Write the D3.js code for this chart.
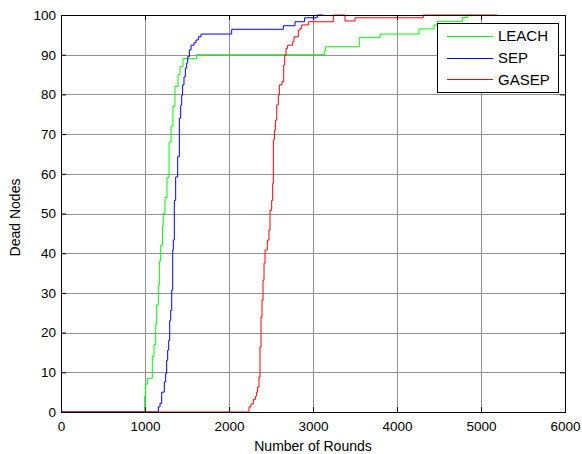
<!DOCTYPE html>
<html><head><meta charset="utf-8">
<script src="https://cdn.jsdelivr.net/npm/d3@7"></script>
<style>body{margin:0;background:#fff} svg text{font-family:"Liberation Sans",Arial,sans-serif;fill:#000}</style>
</head><body><svg id="c" width="582" height="454"></svg>
<script>
const xTicks=[0,1000,2000,3000,4000,5000,6000];
const yTicks=[0,10,20,30,40,50,60,70,80,90,100];
const seriesNames=["LEACH","SEP","GASEP"];
const seriesColors=["#00ff00","#0000ff","#ff0000"];
const xLabel="Number of Rounds";
const yLabel="Dead Nodes";

const leachRounds=[0,996,1008,1028,1087,1107,1127,1139,1159,1171,1187,1208,1218,1238,1262,1286,1310,1333,1357,1393,1417,1452,1615,3135,3150,3551,3798,4262,4440,4480,4777,4840,4900];
const leachDead=[0,4,7,8.5,14,17,22,27,32,38,42,47,50,54,59,68,72,77,82,85,87,89,90,91,92,94.3,95.2,96.5,97.5,98.4,99.4,100,100];

const sepRounds=[0,1159,1179,1199,1230,1246,1258,1270,1282,1294,1306,1318,1330,1337,1349,1365,1389,1409,1425,1437,1448,1464,1480,1496,1508,1528,1548,1583,1607,1635,1667,2032,2647,2786,2900,3050,3120];
const sepDead=[0,1.3,2.2,5,7.6,9.7,13,15.6,18,23,25.6,30.7,40.8,43.3,53.3,59.2,64.3,74,77.3,79.8,82.4,84.4,86.6,87.9,89.5,91.2,92.4,93,93.7,94.5,95.2,96.4,97.3,98.3,99.3,100,100];

const gasepRounds=[0,2238,2262,2290,2317,2329,2341,2357,2369,2381,2393,2405,2417,2429,2456,2476,2488,2508,2520,2528,2540,2552,2568,2587,2599,2631,2651,2663,2679,2698,2758,2774,2825,2845,2865,2944,3242,3381,3500,4313,5190];
const gasepDead=[0,1.3,2,3.2,4,5,6.3,8.8,16.4,23.9,28.2,33.2,37.5,40.8,43.3,45.8,50.8,53.3,57.6,68.5,71,73.5,77.3,79.8,82.4,83.2,87.4,89.9,91.6,92.4,93.3,94.5,96.2,96.6,97.5,98.3,100,98.5,99.3,100,100];

const allRounds=[leachRounds,sepRounds,gasepRounds];
const allDead=[leachDead,sepDead,gasepDead];

const L=61,T=15,W=504,H=397;
const svg=d3.select("#c");
const x=d3.scaleLinear().domain([0,6000]).range([L,L+W]);
const y=d3.scaleLinear().domain([0,100]).range([T+H,T]);

const g=svg.append("g");
// grid
g.append("g").selectAll("line").data(xTicks.slice(1,-1)).join("line")
 .attr("x1",d=>Math.round(x(d))+0.5).attr("x2",d=>Math.round(x(d))+0.5)
 .attr("y1",T).attr("y2",T+H).attr("stroke","#939393").attr("stroke-width",1);
g.append("g").selectAll("line").data(yTicks.slice(1,-1)).join("line")
 .attr("y1",d=>Math.round(y(d))+0.5).attr("y2",d=>Math.round(y(d))+0.5)
 .attr("x1",L).attr("x2",L+W).attr("stroke","#939393").attr("stroke-width",1);

// series
const line=d3.line().x(d=>x(d[0])).y(d=>y(d[1])).curve(d3.curveStepAfter);
allRounds.forEach((r,i)=>{
  const pts=r.map((v,j)=>[v,allDead[i][j]]);
  g.append("path").datum(pts).attr("d",line).attr("fill","none")
   .attr("stroke",seriesColors[i]).attr("stroke-width",1);
});

// axes (inward ticks)
const fmt=d3.format("d");
const ax=d3.axisBottom(x).tickValues(xTicks).tickFormat(fmt).tickSizeInner(-5).tickSizeOuter(0).tickPadding(9);
const ay=d3.axisLeft(y).tickValues(yTicks).tickFormat(fmt).tickSizeInner(-5).tickSizeOuter(0).tickPadding(5);
const axTop=d3.axisTop(x).tickValues(xTicks).tickSizeInner(-5).tickSizeOuter(0).tickFormat("");
const ayRight=d3.axisRight(y).tickValues(yTicks).tickSizeInner(-5).tickSizeOuter(0).tickFormat("");
svg.append("g").attr("transform",`translate(0,${T+H})`).call(ax);
svg.append("g").attr("transform",`translate(${L},0)`).call(ay);
svg.append("g").attr("transform",`translate(0,${T})`).call(axTop);
svg.append("g").attr("transform",`translate(${L+W},0)`).call(ayRight);
svg.selectAll(".domain").remove();
svg.selectAll(".tick line").attr("stroke","#000");
svg.selectAll(".tick text").style("font-size","13.5px").attr("fill","#000");
svg.append("rect").attr("x",L+0.5).attr("y",T+0.5).attr("width",W).attr("height",H)
 .attr("fill","none").attr("stroke","#000").attr("stroke-width",1);

// labels
svg.append("text").attr("x",L+W/2).attr("y",451).attr("text-anchor","middle").style("font-size","14px").text(xLabel);
svg.append("text").attr("transform",`translate(20,${T+H/2+4}) rotate(-90)`).attr("text-anchor","middle").style("font-size","14px").text(yLabel);

// legend
const lg=svg.append("g");
lg.append("rect").attr("x",437.5).attr("y",23.5).attr("width",121).attr("height",69).attr("fill","#fff").attr("stroke","#000");
seriesNames.forEach((n,i)=>{
  const cy=35.7+i*21.8;
  lg.append("line").attr("x1",447).attr("x2",493).attr("y1",Math.round(cy)+0.5).attr("y2",Math.round(cy)+0.5).attr("stroke",seriesColors[i]);
  lg.append("text").attr("x",498).attr("y",cy+5.5).style("font-size","15px").text(n);
});
</script></body></html>
